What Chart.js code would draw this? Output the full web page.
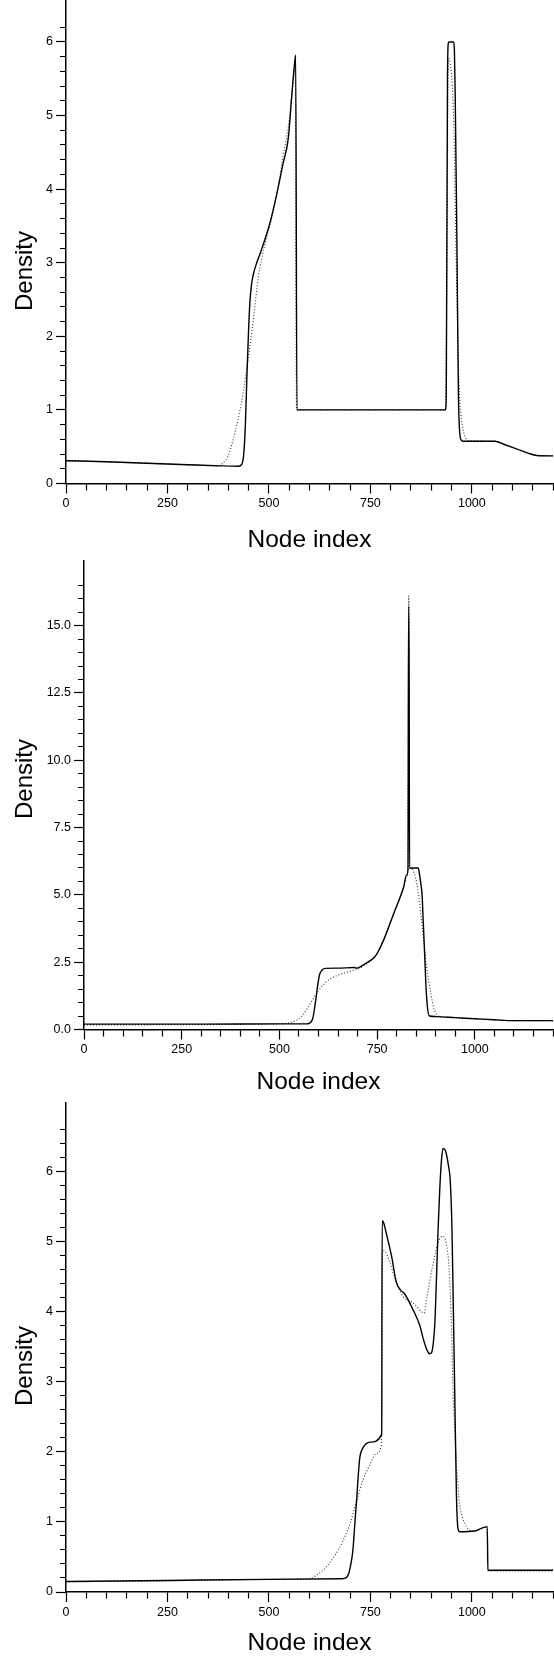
<!DOCTYPE html>
<html>
<head>
<meta charset="utf-8">
<script src="https://cdn.jsdelivr.net/npm/chart.js@4.4.0/dist/chart.umd.min.js"></script>
<style>
  html, body { margin: 0; padding: 0; background: #fff; }
  body { position: relative; width: 554px; height: 1660px; overflow: hidden; }
  canvas { position: absolute; left: 0; }
</style>
</head>
<body>
<canvas id="topChart" width="554" height="555" style="top:0"></canvas>
<canvas id="midChart" width="554" height="552" style="top:545px"></canvas>
<canvas id="lowChart" width="554" height="560" style="top:1098px"></canvas>
<script>
// x tick labels shared by all three panels
const xMajorTicks = [0, 250, 500, 750, 1000];

// top panel
const topSolidX = [0, 100, 200, 300, 380, 425, 433, 438, 442, 446, 450, 453, 457, 462, 470, 480, 503, 520, 535, 548, 556, 564, 566, 569, 935, 937, 940, 942, 944, 955, 957, 959, 963, 967, 970, 974, 978, 1057, 1080, 1110, 1140, 1160, 1200];
const topSolidY = [0.31, 0.295, 0.275, 0.255, 0.24, 0.235, 0.26, 0.4, 0.8, 1.5, 2.1, 2.45, 2.7, 2.85, 3.0, 3.15, 3.55, 3.95, 4.35, 4.7, 5.25, 5.75, 5.82, 1.0, 1.0, 1.2, 5.5, 5.98, 6.0, 6.0, 5.9, 5.3, 3.4, 1.2, 0.7, 0.59, 0.575, 0.575, 0.53, 0.47, 0.41, 0.38, 0.375];
const topDotX = [0, 100, 200, 300, 370, 385, 400, 412, 425, 437, 449, 461, 474, 490, 503, 520, 535, 548, 556, 562, 565, 568, 935, 938, 941, 943, 947, 952, 956, 960, 964, 968, 973, 979, 987, 1000, 1057, 1080, 1110, 1140, 1160, 1200];
const topDotY = [0.31, 0.295, 0.275, 0.255, 0.24, 0.27, 0.38, 0.6, 0.9, 1.25, 1.7, 2.2, 2.8, 3.25, 3.52, 3.95, 4.45, 4.85, 5.25, 5.6, 5.75, 1.0, 1.0, 2.5, 5.4, 5.78, 5.7, 5.4, 4.8, 3.5, 2.3, 1.4, 0.95, 0.72, 0.6, 0.58, 0.575, 0.53, 0.47, 0.41, 0.38, 0.375];
const topYLabels = [0, 1, 2, 3, 4, 5, 6];

// middle panel
const midSolidX = [0, 300, 500, 570, 576, 582, 586, 590, 594, 598, 603, 610, 618, 650, 692, 697, 720, 743, 751, 766, 782, 795, 808, 818, 825, 829, 830.5, 831.5, 833, 838, 855, 858, 862, 865, 868, 871, 875, 879, 884, 900, 950, 1000, 1050, 1100, 1200];
const midSolidY = [0.2, 0.2, 0.21, 0.21, 0.23, 0.3, 0.45, 0.8, 1.2, 1.65, 2.05, 2.22, 2.27, 2.28, 2.3, 2.28, 2.45, 2.68, 2.85, 3.3, 3.9, 4.4, 4.88, 5.3, 5.72, 5.95, 15.7, 15.7, 6.0, 6.0, 6.0, 5.8, 5.4, 5.0, 4.0, 3.0, 1.6, 0.8, 0.5, 0.48, 0.44, 0.4, 0.36, 0.33, 0.33];
const midDotX = [0, 300, 450, 510, 530, 545, 557, 570, 585, 600, 615, 630, 650, 670, 690, 710, 730, 745, 751, 766, 782, 795, 808, 818, 825, 829, 830.5, 831.5, 833, 838, 845, 852, 858, 864, 870, 876, 882, 888, 894, 900, 906, 920, 950, 1000, 1050, 1100, 1200];
const midDotY = [0.17, 0.18, 0.2, 0.22, 0.26, 0.35, 0.5, 0.75, 1.1, 1.45, 1.7, 1.88, 2.02, 2.12, 2.2, 2.32, 2.5, 2.72, 2.85, 3.3, 3.9, 4.4, 4.88, 5.3, 5.72, 5.95, 16.1, 16.1, 6.0, 5.95, 5.8, 5.4, 4.8, 4.0, 3.2, 2.4, 1.8, 1.3, 0.85, 0.6, 0.5, 0.47, 0.44, 0.4, 0.36, 0.33, 0.33];
const midYLabels = [0, 2.5, 5, 7.5, 10, 12.5, 15];

// bottom panel
const lowSolidX = [0, 250, 500, 680, 690, 697, 702, 707, 712, 716, 720, 724, 730, 750, 778, 779, 782, 790, 802, 814, 823, 835, 855, 872, 880, 889, 896, 901, 905, 909, 913, 917, 921, 925, 929, 935, 942, 947, 951, 954, 958, 962, 966, 970, 1007, 1036, 1038, 1039.5, 1200];
const lowSolidY = [0.15, 0.165, 0.18, 0.19, 0.2, 0.27, 0.4, 0.6, 1.0, 1.3, 1.65, 1.92, 2.04, 2.14, 2.25, 5.3, 5.28, 5.1, 4.8, 4.42, 4.32, 4.25, 4.03, 3.8, 3.62, 3.46, 3.4, 3.42, 3.55, 3.85, 4.5, 5.2, 5.75, 6.15, 6.33, 6.3, 6.1, 5.85, 5.2, 4.2, 2.8, 1.4, 0.9, 0.86, 0.87, 0.93, 0.93, 0.31, 0.31];
const lowDotX = [0, 250, 500, 600, 620, 640, 660, 680, 700, 716, 732, 749, 765, 777, 779, 784, 798, 814, 830, 855, 876, 882, 889, 905, 917, 928, 938, 944, 950, 954, 958, 962, 970, 978, 987, 995, 1007, 1036, 1038, 1039.5, 1200];
const lowDotY = [0.145, 0.16, 0.18, 0.19, 0.25, 0.35, 0.5, 0.7, 0.98, 1.3, 1.6, 1.82, 1.98, 2.1, 4.8, 4.87, 4.7, 4.42, 4.22, 4.13, 4.0, 3.98, 4.2, 4.7, 4.99, 5.08, 4.94, 4.61, 3.75, 2.8, 2.3, 1.84, 1.25, 1.05, 0.93, 0.88, 0.87, 0.93, 0.93, 0.3, 0.3];
const lowYLabels = [0, 1, 2, 3, 4, 5, 6];

const FONT = "'Liberation Sans', Arial, Helvetica, sans-serif";

const pts = (xs, ys) => xs.map((x, i) => ({ x, y: ys[i] }));
const isStep = (v, s) => Math.abs(v / s - Math.round(v / s)) < 1e-6;
const inList = (v, list) => list.some((m) => Math.abs(m - v) < 1e-6);

// the "Density" titles sit off the axis centre in the original, so draw them by hand
const yTitlePlugin = {
  id: 'yTitle',
  afterDraw(chart, args, opts) {
    const { ctx } = chart;
    ctx.save();
    ctx.translate(opts.x, opts.y);
    ctx.rotate(-Math.PI / 2);
    ctx.font = `24px ${FONT}`;
    ctx.fillStyle = '#000';
    ctx.textAlign = 'center';
    ctx.textBaseline = 'middle';
    ctx.fillText(opts.text, 0, 0);
    ctx.restore();
  },
};

function drawPanel(id, p) {
  new Chart(document.getElementById(id), {
    type: 'line',
    data: {
      datasets: [
        { data: pts(p.solidX, p.solidY), borderColor: '#000', borderWidth: 1.4 },
        { data: pts(p.dotX, p.dotY), borderColor: '#333', borderWidth: 1.1, borderDash: [1, 2] },
      ],
    },
    plugins: [yTitlePlugin],
    options: {
      responsive: false,
      animation: false,
      devicePixelRatio: 1,
      layout: { padding: { top: p.padTop, right: 1, bottom: 0, left: 0 } },
      elements: {
        point: { radius: 0 },
        line: { cubicInterpolationMode: 'monotone', fill: false },
      },
      plugins: {
        legend: { display: false },
        tooltip: { enabled: false },
        yTitle: { text: 'Density', x: 25, y: p.titleY },
      },
      scales: {
        x: {
          type: 'linear',
          min: 0,
          max: 1200,
          border: { display: true, color: '#000', width: 1.5 },
          grid: {
            display: true,
            drawOnChartArea: false,
            tickLength: 10,
            tickColor: '#000',
            tickWidth: 1.2,
            tickBorderDash: (ctx) => (ctx.tick && inList(ctx.tick.value, xMajorTicks) ? [] : [6, 100]),
          },
          ticks: {
            stepSize: 50,
            autoSkip: false,
            maxRotation: 0,
            padding: 3,
            color: '#000',
            font: { family: FONT, size: 12.5 },
            callback: (v) => (inList(v, xMajorTicks) ? String(v) : ''),
          },
          title: {
            display: true,
            text: 'Node index',
            color: '#000',
            font: { family: FONT, size: 24.5 },
            padding: { top: 0, bottom: 0 },
          },
          afterFit: (s) => { s.height = p.xHeight; s.paddingLeft = 0; s.paddingRight = 0; },
        },
        y: {
          min: 0,
          max: p.yMax,
          border: { display: true, color: '#000', width: 1.5 },
          grid: {
            display: true,
            drawOnChartArea: false,
            tickLength: 10,
            tickColor: '#000',
            tickWidth: 1.2,
            tickBorderDash: (ctx) => (ctx.tick && inList(ctx.tick.value, p.yLabels) ? [] : [0, 4, 6, 100]),
          },
          afterBuildTicks: (s) => { s.ticks = s.ticks.filter((t) => isStep(t.value, p.yStep)); },
          ticks: {
            stepSize: p.yStep,
            autoSkip: false,
            padding: 3,
            color: '#000',
            font: { family: FONT, size: 12.5 },
            callback: (v) => (inList(v, p.yLabels) ? v.toFixed(p.yDigits) : ''),
          },
          title: { display: false },
          afterFit: (s) => { s.width = p.yWidth; s.paddingTop = 0; s.paddingBottom = 0; },
        },
      },
    },
  });
}

drawPanel('topChart', {
  solidX: topSolidX, solidY: topSolidY, dotX: topDotX, dotY: topDotY,
  yLabels: topYLabels, yStep: 0.2, yDigits: 0, yMax: 6.57,
  padTop: 0, xHeight: 71.5, yWidth: 66, titleY: 271,
});

drawPanel('midChart', {
  solidX: midSolidX, solidY: midSolidY, dotX: midDotX, dotY: midDotY,
  yLabels: midYLabels, yStep: 0.5, yDigits: 1, yMax: 17.4,
  padTop: 16, xHeight: 67.5, yWidth: 84, titleY: 779 - 545,
});

drawPanel('lowChart', {
  solidX: lowSolidX, solidY: lowSolidY, dotX: lowDotX, dotY: lowDotY,
  yLabels: lowYLabels, yStep: 0.2, yDigits: 0, yMax: 6.98,
  padTop: 5, xHeight: 66, yWidth: 66, titleY: 1366 - 1098,
});
</script>
</body>
</html>
